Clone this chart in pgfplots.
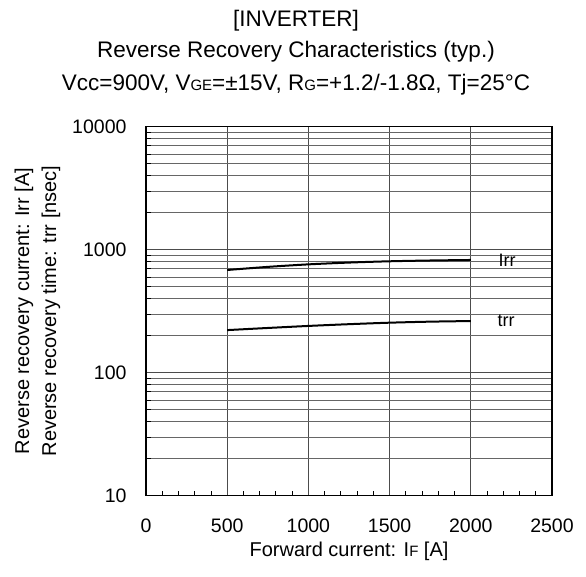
\documentclass[border=0pt]{standalone}
\usepackage{fontspec}
\setmainfont{Liberation Sans}
\usepackage{pgfplots}
\pgfplotsset{compat=1.18}

% small caps-like subscript letters (VGE, RG, IF)
\newcommand{\sm}[1]{{\fontsize{15}{15}\selectfont #1}}

\begin{document}
\begin{tikzpicture}[x=1pt,y=1pt]
  \useasboundingbox (0,0) rectangle (586,576);

  % titles
  \node[anchor=base, font=\fontsize{22.5}{22.5}\selectfont] at (296,549) {[INVERTER]};
  \node[anchor=base, font=\fontsize{22.5}{22.5}\selectfont] at (296,518.7) {Reverse Recovery Characteristics (typ.)};
  \node[anchor=base, font=\fontsize{22.5}{22.5}\selectfont] at (296,485.3)
    {Vcc=900V, V\sm{GE}=±15V, R\sm{G}=+1.2/-1.8Ω, Tj=25°C};

  % y label (two lines)
  \node[rotate=90, align=center, font=\fontsize{20}{27}\selectfont] at (37.5,265)
    {Reverse recovery current: Irr [A]\\Reverse recovery time: trr [nsec]};

  % x label
  \node[anchor=base, font=\fontsize{20}{20}\selectfont] at (349,20) {Forward current: I\sm{F} [A]};

  \begin{axis}[
    at={(146pt,80.3pt)}, anchor=south west,
    scale only axis, width=406pt, height=369pt,
    ymode=log, log basis y=10,
    xmin=0, xmax=2500, ymin=10, ymax=10000,
    xtick={0,500,...,2500},
    minor x tick num=4,
    ytick={10,100,1000,10000},
    yticklabels={10,100,1000,10000},
    minor ytick={20,30,40,50,60,70,80,90,200,300,400,500,600,700,800,900,2000,3000,4000,5000,6000,7000,8000,9000},
    xmajorgrids, ymajorgrids, yminorgrids,
    major grid style={draw=black!70, line width=0.9pt},
    minor grid style={draw=black!60, line width=0.9pt},
    axis line style={line width=1.2pt},
    tick align=inside,
    xtick pos=bottom, ytick pos=left,
    major tick length=0pt,
    minor tick length=5pt,
    tick style={black, line width=0.9pt},
    /pgf/number format/assume math mode=true,
    /pgf/number format/1000 sep={},
    ticklabel style={font=\fontsize{19.5}{19.5}\selectfont},
    xticklabel style={yshift=-20pt},
    yticklabel style={xshift=-16pt},
    clip=false,
  ]
    \addplot[black, line width=2pt, smooth] coordinates {
      (500,684) (750,725) (1000,760) (1250,786) (1500,805) (1750,817) (2000,825)
    };
    \addplot[black, line width=2pt, smooth] coordinates {
      (500,222) (750,231) (1000,240) (1250,248) (1500,255) (1750,260) (2000,263)
    };
    \node[font=\fontsize{18}{18}\selectfont] at (axis cs:2223,814) {Irr};
    \node[font=\fontsize{18}{18}\selectfont] at (axis cs:2217,263) {trr};
  \end{axis}
\end{tikzpicture}
\end{document}
